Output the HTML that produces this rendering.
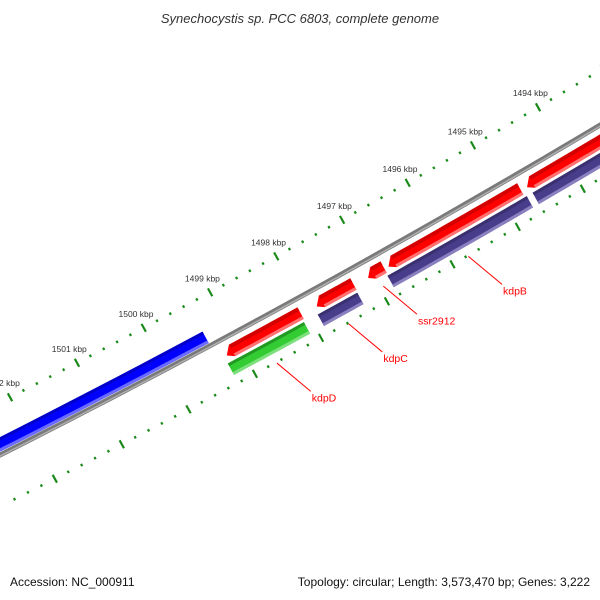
<!DOCTYPE html>
<html><head><meta charset="utf-8"><style>
body{margin:0;background:#fff}
svg{display:block;font-family:"Liberation Sans",sans-serif}
</style></head><body>
<svg id="map" width="600" height="600" viewBox="0 0 600 600">
<text x="300" y="23" text-anchor="middle" font-size="13" font-style="italic" fill="#333">Synechocystis sp. PCC 6803, complete genome</text>
<text x="10" y="586" font-size="12" fill="#111">Accession: NC_000911</text>
<text x="590" y="586" font-size="12" fill="#111" text-anchor="end">Topology: circular; Length: 3,573,470 bp; Genes: 3,222</text>
<g id="plot" transform="translate(0,455) rotate(-28.8)"></g>
<g id="labels"></g>
</svg>
<script>
// data (kbp)
const majorTicks = [1493,1494,1495,1496,1497,1498,1499,1500,1501,1502,1503];
const tickLabels = ["1493 kbp","1494 kbp","1495 kbp","1496 kbp","1497 kbp","1498 kbp","1499 kbp","1500 kbp","1501 kbp","1502 kbp","1503 kbp"];
const featureNames = ["gene-blue","gene-red-a","kdpD","gene-red-b","kdpC","ssr2912","gene-red-c","kdpB","gene-red-d","gene-purple-d"];
const featureStart = [1499.34,1499.21,1499.25,1497.85,1497.89,1497.07,1496.76,1496.83,1494.64,1494.61];
const featureEnd   = [1503.2,1498.08,1498.10,1497.28,1497.29,1496.82,1494.73,1494.70,1492.8,1492.8];
const featureTrack = ["outer","fwd","rev","fwd","rev","fwd","fwd","rev","fwd","rev"];
const featureColor = ["blue","red","green","red","purple","red","red","purple","red","purple"];
const labelNames = ["kdpD","kdpC","ssr2912","kdpB"];
const labelGene  = [2,4,5,7];

const NS="http://www.w3.org/2000/svg";
const plot=document.getElementById('plot');
const labels=document.getElementById('labels');
const A=-28.8*Math.PI/180, ca=Math.cos(A), sa=Math.sin(A);
function sOf(kbp){return 639+(1494-kbp)*75.3;}
function bow(s){return 6-(s-342)*(s-342)/19500;}
function P(s,off){return [s,bow(s)+off];}
function toScreen(s,off){const p=P(s,off);return [p[0]*ca-p[1]*sa, 455+p[0]*sa+p[1]*ca];}
function mk(tag,attrs,parent){const e=document.createElementNS(NS,tag);for(const k in attrs)e.setAttribute(k,attrs[k]);(parent||plot).appendChild(e);return e;}
function band(s1,s2,o1,o2){let pts=[];const n=12;for(let i=0;i<=n;i++){const s=s1+(s2-s1)*i/n;pts.push(P(s,o1));}for(let i=n;i>=0;i--){const s=s1+(s2-s1)*i/n;pts.push(P(s,o2));}return pts.map(p=>p.join(',')).join(' ');}

// backbone
let bb=[];for(let s=-20;s<=720;s+=20)bb.push(P(s,0).join(','));
let e=mk('polyline',{points:bb.join(' '),fill:'none',stroke:'#7a7a7a','stroke-width':5});

e=mk('polyline',{points:bb.join(' '),fill:'none',stroke:'#b0b0b0','stroke-width':1.5,transform:'translate(0,1)'});


// ticks
const rings=[-47,46];
for(let r=0;r<2;r++){
  for(let k=0;k<majorTicks.length;k++){
    for(let m=0;m<5;m++){
      const kb=majorTicks[k]+m*0.2;const s=sOf(kb);
      if(s<-10||s>720)continue;
      const off=rings[r];const len=m===0?4.5:1.3;
      const a=P(s,off-len),b=P(s,off+len);
      e=mk('line',{x1:a[0],y1:a[1],x2:b[0],y2:b[1],stroke:'#1a8a1a','stroke-width':2.2});
      
      
    }
  }
}
for(let k=0;k<majorTicks.length;k++){
  const s=sOf(majorTicks[k]);if(s<10||s>690)continue;
  const p=toScreen(s,-63);
  e=mk('text',{x:p[0],y:p[1]+3,'font-size':8.5,'text-anchor':'middle',fill:'#333'},labels);
  e.textContent=tickLabels[k];
  
}

// features
const tracks={outer:[-16,-3],fwd:[8,21],rev:[24,37]};
const cols={red:['#ff0000','#d40000','#ff7070'],green:['#33cc33','#229922','#7de07d'],purple:['#483d8b','#3a3070','#8a80c0'],blue:['#0000ff','#0000c8','#6a6aff']};
for(let i=0;i<featureNames.length;i++){
  let s1=sOf(featureStart[i]),s2=sOf(featureEnd[i]);
  const lo=Math.min(s1,s2),hi=Math.max(s1,s2);
  const [o1,o2]=tracks[featureTrack[i]];const c=cols[featureColor[i]];
  const g=mk('g',{});
  
  let pts;
  if(featureTrack[i]==='fwd'){ // arrow pointing left
    const t=lo+7;const m=(o1+o2)/2;
    pts=band(t,hi,o1,o2)+' '+P(lo,m+2).join(',');
    mk('polygon',{points:pts,fill:c[0]},g);
    mk('polygon',{points:band(t,hi,o1,o1+4),fill:c[1]},g);
    mk('polygon',{points:band(t,hi,o2-3,o2),fill:c[2]},g);
  } else {
    mk('polygon',{points:band(lo,hi,o1,o2),fill:c[0]},g);
    mk('polygon',{points:band(lo,hi,o1,o1+3),fill:c[1]},g);
    mk('polygon',{points:band(lo,hi,o2-3,o2),fill:c[2]},g);
  }
}
// gene labels
const labelOffsets=[[282,372,305,410,306,420],[354,332,375,368,378,380],[395,310,417,345,418,355],[474,263,496,298,499,309]];
for(let j=0;j<labelNames.length;j++){
  const i=labelGene[j];
  const s=(sOf(featureStart[i])+sOf(featureEnd[i]))/2;
  const tr=tracks[featureTrack[i]];
  const a=toScreen(s,tr[1]+10),b=toScreen(s+16,tr[1]+51);
  e=mk('line',{x1:a[0],y1:a[1],x2:b[0],y2:b[1],stroke:'#ff0000','stroke-width':1},labels);
  
  e=mk('text',{x:b[0]+1,y:b[1]+10,'font-size':10.5,fill:'#ff0000'},labels);
  e.textContent=labelNames[j];
  
}
</script>
</body></html>
